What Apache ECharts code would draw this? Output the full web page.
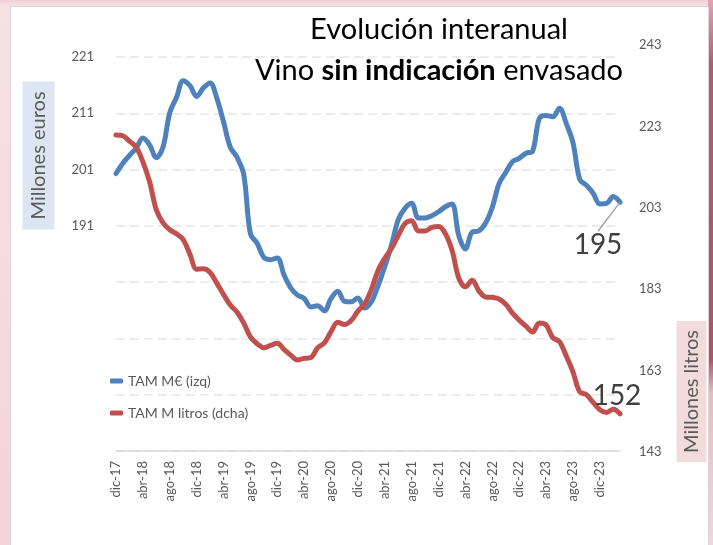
<!DOCTYPE html>
<html>
<head>
<meta charset="utf-8">
<title>Evolución interanual - Vino sin indicación envasado</title>
<script src="https://cdn.jsdelivr.net/npm/echarts@6/dist/echarts.min.js"></script>
<style>
  body { margin: 0; width: 713px; height: 545px; overflow: hidden; position: relative;
         background: linear-gradient(#f3cfd6, #f7e1e5 6px, #f4d3da); }
  #borde { position: absolute; left: 708px; top: 0; width: 5px; height: 545px;
           background: linear-gradient(#e3a3b1, #bb5570 12%, #b84f6b 66%, #e8b9c4 72%, #f3d6dc); }
  #tarjeta { position: absolute; left: 10px; top: 6px; width: 697px; height: 545px;
             background: #fff; border: 1px solid #d6d6d6; }
  #chart { position: absolute; left: 0; top: 0; width: 713px; height: 545px; }
</style>
</head>
<body>
<div id="borde"></div>
<div id="tarjeta"></div>
<div id="chart"></div>
<script>
  // meses dic-17 ... mar-24
  const meses = ['ene', 'feb', 'mar', 'abr', 'may', 'jun', 'jul', 'ago', 'sep', 'oct', 'nov', 'dic'];
  const categorias = [];
  for (let i = 0; i < 76; i++) {
    categorias.push(meses[(11 + i) % 12] + '-' + (17 + Math.floor((11 + i) / 12)));
  }

  // TAM M€ (eje izquierdo)
  const euros = [
    200.3, 202.1, 203.5, 204.8, 206.6, 205.4, 203.1, 205.0, 211.1, 213.8,
    216.8, 215.9, 214.0, 215.5, 216.4, 213.7, 209.5, 205.0, 203.2, 200.2,
    189.6, 187.9, 185.4, 185.0, 185.3, 182.3, 180.0, 178.7, 178.1, 176.6,
    176.8, 175.9, 178.1, 179.4, 177.6, 177.5, 178.2, 176.4, 177.5, 180.4,
    183.8, 187.6, 192.1, 194.1, 195.0, 192.4, 192.4, 192.8, 193.5, 194.4,
    194.9, 189.3, 186.9, 189.9, 190.1, 191.5, 194.3, 198.5, 200.5, 202.4,
    203.0, 203.9, 204.3, 210.1, 210.6, 210.4, 211.9, 209.2, 205.8, 199.3,
    198.2, 196.8, 194.9, 195.0, 196.2, 195.2
  ];

  // TAM M litros (eje derecho)
  const litros = [
    220.9, 220.7, 219.4, 217.9, 214.3, 209.4, 202.5, 199.3, 197.6, 196.6,
    195.2, 191.6, 187.9, 188.0, 187.1, 184.5, 181.7, 179.1, 177.4, 174.7,
    171.3, 169.6, 168.6, 169.2, 169.7, 168.2, 166.8, 165.6, 166.0, 166.2,
    168.6, 169.8, 172.6, 174.9, 174.3, 175.3, 177.6, 179.4, 182.9, 187.6,
    190.6, 193.0, 196.2, 199.1, 199.8, 197.3, 197.3, 198.2, 198.4, 196.7,
    192.6, 185.8, 183.6, 185.2, 182.6, 181.1, 181.0, 180.6, 179.3, 177.1,
    175.4, 173.9, 172.5, 174.7, 174.2, 171.1, 170.1, 166.6, 162.7, 157.8,
    157.1, 155.2, 153.4, 152.7, 153.5, 152.4
  ];

  const ticksIzq = [151, 161, 171, 181, 191, 201, 211, 221];
  const etiquetasIzq = [191, 201, 211, 221];
  const ticksDer = [143, 163, 183, 203, 223, 243];

  const gris = '#595959';
  const fuente = 'Lato, "Open Sans", sans-serif';

  function conEtiquetaFinal(arr) {
    return arr.map((v, i) => i === arr.length - 1 ? { value: v, label: { show: true } } : v);
  }

  const chart = echarts.init(document.getElementById('chart'));

  const option = {
    animation: false,
    textStyle: { fontFamily: fuente },
    grid: [
      { left: 116, right: 93, top: 57, bottom: 94, outerBoundsMode: 'none' },
      { left: 116, right: 93, top: 45, bottom: 93, outerBoundsMode: 'none' }
    ],
    legend: {
      orient: 'vertical',
      left: 105,
      top: 369,
      itemGap: 18,
      itemWidth: 13,
      itemHeight: 5,
      icon: 'roundRect',
      textStyle: { color: gris, fontSize: 14, fontFamily: fuente },
      data: ['TAM M€ (izq)', 'TAM M litros (dcha)']
    },
    xAxis: [
      {
        type: 'category', gridIndex: 0, data: categorias, boundaryGap: false,
        axisLine: { lineStyle: { color: '#d9d9d9', width: 1.5 } },
        axisTick: { show: false },
        axisLabel: { interval: 3, rotate: 90, margin: 10, color: gris, fontSize: 13, fontFamily: fuente }
      },
      { type: 'category', gridIndex: 1, data: categorias, boundaryGap: false, show: false }
    ],
    yAxis: [
      {
        type: 'value', gridIndex: 0, min: 151, max: 221, position: 'left',
        axisLine: { show: false },
        axisTick: { show: false, customValues: ticksIzq },
        axisLabel: { customValues: etiquetasIzq, margin: 22, color: gris, fontSize: 13, fontFamily: fuente },
        splitLine: { show: true, lineStyle: { color: '#e6e6e6', width: 1.5, type: [9, 5] } }
      },
      {
        type: 'value', gridIndex: 1, min: 143, max: 243, position: 'right',
        axisLine: { show: false },
        axisTick: { show: false, customValues: ticksDer },
        axisLabel: { customValues: ticksDer, margin: 19, color: gris, fontSize: 13, fontFamily: fuente },
        splitLine: { show: false }
      }
    ],
    series: [
      {
        name: 'TAM M€ (izq)', type: 'line', xAxisIndex: 0, yAxisIndex: 0,
        data: conEtiquetaFinal(euros),
        smooth: 0.35, symbol: 'circle', symbolSize: 1, showSymbol: true, showAllSymbol: true,
        itemStyle: { color: '#4f81bd' },
        lineStyle: { color: '#4f81bd', width: 5, cap: 'round', join: 'round' },
        label: {
          show: false, position: 'inside', formatter: p => Math.round(p.value),
          fontSize: 28, color: '#404040', fontFamily: fuente, padding: [12, 0, 0, 0]
        },
        labelLayout: { dx: -22, dy: 43 },
        labelLine: { show: true, lineStyle: { color: '#a6a6a6', width: 1.5 } },
        emphasis: { disabled: true }
      },
      {
        name: 'TAM M litros (dcha)', type: 'line', xAxisIndex: 1, yAxisIndex: 1,
        data: conEtiquetaFinal(litros),
        smooth: 0.35, symbol: 'circle', symbolSize: 1, showSymbol: true, showAllSymbol: true,
        itemStyle: { color: '#c0504d' },
        lineStyle: { color: '#c0504d', width: 5, cap: 'round', join: 'round' },
        label: {
          show: false, position: 'inside', formatter: p => Math.round(p.value),
          fontSize: 28, color: '#404040', fontFamily: fuente
        },
        labelLayout: { dx: -3, dy: -18 },
        emphasis: { disabled: true }
      }
    ],
    graphic: [
      {
        type: 'text', x: 439, y: 9, z: 10,
        style: {
          text: '{a|Evolución interanual}\n{a|Vino }{b|sin indicación}{a| envasado}',
          align: 'center', verticalAlign: 'top',
          rich: {
            a: { fontSize: 29, fontFamily: fuente, fill: '#000', lineHeight: 41 },
            b: { fontSize: 29, fontFamily: fuente, fontWeight: 'bold', fill: '#000', lineHeight: 41 }
          }
        }
      },
      {
        type: 'text', x: 38.5, y: 155.5, rotation: Math.PI / 2,
        style: {
          text: 'Millones euros', font: '20px ' + fuente, fill: gris,
          align: 'center', verticalAlign: 'middle',
          backgroundColor: '#dce6f2', padding: [6, 10]
        }
      },
      {
        type: 'text', x: 691.5, y: 391.5, rotation: Math.PI / 2,
        style: {
          text: 'Millones litros', font: '20px ' + fuente, fill: gris,
          align: 'center', verticalAlign: 'middle',
          backgroundColor: '#f2dcdb', padding: [5, 9]
        }
      }
    ]
  };

  chart.setOption(option);
</script>
</body>
</html>
